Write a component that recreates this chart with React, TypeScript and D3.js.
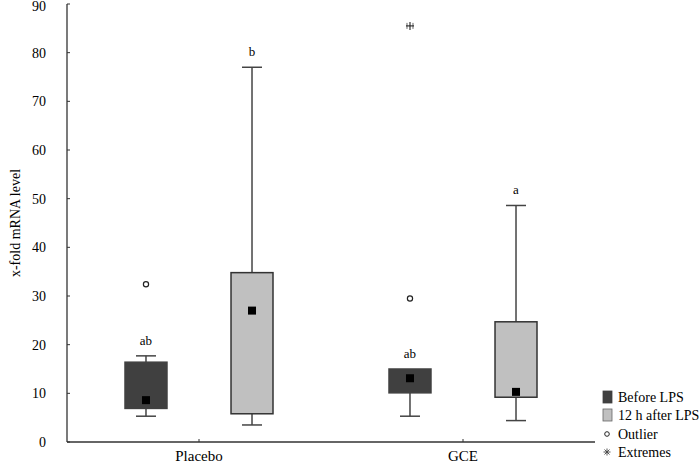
import React from "react";
import * as d3 from "d3";

// groups on the x axis and the two time points
const groups = ["Placebo", "GCE"];
const series = ["Before LPS", "12 h after LPS"];
const fills = ["#404040", "#c0c0c0"];

// box plot stats, [group][series]
const whiskerLow = [[5.3, 3.5], [5.3, 4.4]];
const q1 = [[6.9, 5.8], [10.1, 9.2]];
const q3 = [[16.4, 34.8], [15.0, 24.7]];
const whiskerHigh = [[17.7, 77.0], [15.0, 48.6]];
const means = [[8.6, 27.0], [13.1, 10.3]];
const outliers = [[[32.4], []], [[29.5], []]];
const extremes = [[[], []], [[85.5], []]];
const letters = [["ab", "b"], ["ab", "a"]];

const yTicks = [0, 10, 20, 30, 40, 50, 60, 70, 80, 90];

const W = 700;
const H = 464;
const font = "'Liberation Serif', 'Times New Roman', serif";

export default function App() {
  const y = d3.scaleLinear().domain([0, 90]).range([442, 4]);
  const x = d3.scaleBand().domain(groups).range([67, 595]);
  const inner = d3.scaleBand().domain(series).range([-74, 74]).paddingInner(0.604);
  const bw = inner.bandwidth();
  const cap = 20;

  const legendY = [397, 415, 434, 452];

  return (
    <svg width={W} height={H} style={{ position: "absolute", left: 0, top: 0, background: "#fff" }}>
      {/* y axis */}
      <line x1={67} x2={67} y1={y(90)} y2={y(0)} stroke="#333" strokeWidth={1.3} />
      {yTicks.map((t) => (
        <g key={t}>
          <line x1={67} x2={70} y1={y(t)} y2={y(t)} stroke="#333" strokeWidth={1} />
          <text x={46} y={Math.max(y(t), 6)} dy="0.35em" textAnchor="end" fontFamily={font} fontSize={14}>
            {t}
          </text>
        </g>
      ))}
      <text
        transform={`translate(15,223) rotate(-90)`}
        textAnchor="middle"
        dy="0.35em"
        fontFamily={font}
        fontSize={14}
      >
        x-fold mRNA level
      </text>

      {/* x axis */}
      <line x1={67} x2={595} y1={y(0)} y2={y(0)} stroke="#333" strokeWidth={1.3} />
      {groups.map((g) => {
        const cx = (x(g) ?? 0) + x.bandwidth() / 2;
        return (
          <g key={g}>
            <line x1={cx} x2={cx} y1={y(0)} y2={y(0) - 3} stroke="#333" />
            <text x={cx} y={461} textAnchor="middle" fontFamily={font} fontSize={15}>
              {g}
            </text>
          </g>
        );
      })}

      {/* boxes */}
      {groups.map((g, gi) =>
        series.map((s, si) => {
          const cx = (x(g) ?? 0) + x.bandwidth() / 2 + (inner(s) ?? 0) + bw / 2;
          const left = cx - bw / 2;
          const lo = whiskerLow[gi][si];
          const hi = whiskerHigh[gi][si];
          const b1 = q1[gi][si];
          const b3 = q3[gi][si];
          return (
            <g key={g + s}>
              <line x1={cx} x2={cx} y1={y(lo)} y2={y(b1)} stroke="#444" strokeWidth={1.5} />
              <line x1={cx - cap / 2} x2={cx + cap / 2} y1={y(lo)} y2={y(lo)} stroke="#444" strokeWidth={1.5} />
              {hi > b3 && (
                <>
                  <line x1={cx} x2={cx} y1={y(hi)} y2={y(b3)} stroke="#444" strokeWidth={1.5} />
                  <line x1={cx - cap / 2} x2={cx + cap / 2} y1={y(hi)} y2={y(hi)} stroke="#444" strokeWidth={1.5} />
                </>
              )}
              <rect
                x={left}
                y={y(b3)}
                width={bw}
                height={y(b1) - y(b3)}
                fill={fills[si]}
                stroke={si === 0 ? fills[si] : "#333"}
                strokeWidth={1.5}
              />
              <rect x={cx - 4} y={y(means[gi][si]) - 4} width={8} height={8} fill="#000" />
              {outliers[gi][si].map((v, k) => (
                <circle key={k} cx={cx} cy={y(v)} r={2.6} fill="#fff" stroke="#222" strokeWidth={1.2} />
              ))}
              {extremes[gi][si].map((v, k) => (
                <g key={k} stroke="#222" strokeWidth={1.1} transform={`translate(${cx},${y(v)})`}>
                  <line x1={-4} x2={4} y1={0} y2={0} />
                  <line x1={0} x2={0} y1={-4} y2={4} />
                  <line x1={-3} x2={-3} y1={-3} y2={3} strokeWidth={0.7} />
                  <line x1={3} x2={3} y1={-3} y2={3} strokeWidth={0.7} />
                </g>
              ))}
              <text x={cx} y={y(hi) - 11} textAnchor="middle" fontFamily={font} fontSize={13}>
                {letters[gi][si]}
              </text>
            </g>
          );
        })
      )}

      {/* legend */}
      {series.map((s, si) => (
        <g key={s}>
          <rect x={603} y={legendY[si] - 6} width={9} height={12} fill={fills[si]} stroke={si === 0 ? fills[si] : "#666"} strokeWidth={0.8} />
          <text x={618} y={legendY[si]} dy="0.35em" fontFamily={font} fontSize={14}>
            {s}
          </text>
        </g>
      ))}
      <circle cx={607} cy={legendY[2]} r={2.3} fill="#fff" stroke="#222" strokeWidth={1} />
      <text x={618} y={legendY[2]} dy="0.35em" fontFamily={font} fontSize={14}>
        Outlier
      </text>
      <g stroke="#444" strokeWidth={0.9} transform={`translate(607,${legendY[3]})`}>
        <line x1={-3.5} x2={3.5} y1={0} y2={0} />
        <line x1={0} x2={0} y1={-3.5} y2={3.5} />
        <line x1={-2.5} x2={2.5} y1={-2.5} y2={2.5} />
        <line x1={-2.5} x2={2.5} y1={2.5} y2={-2.5} />
      </g>
      <text x={618} y={legendY[3]} dy="0.35em" fontFamily={font} fontSize={14}>
        Extremes
      </text>
    </svg>
  );
}
